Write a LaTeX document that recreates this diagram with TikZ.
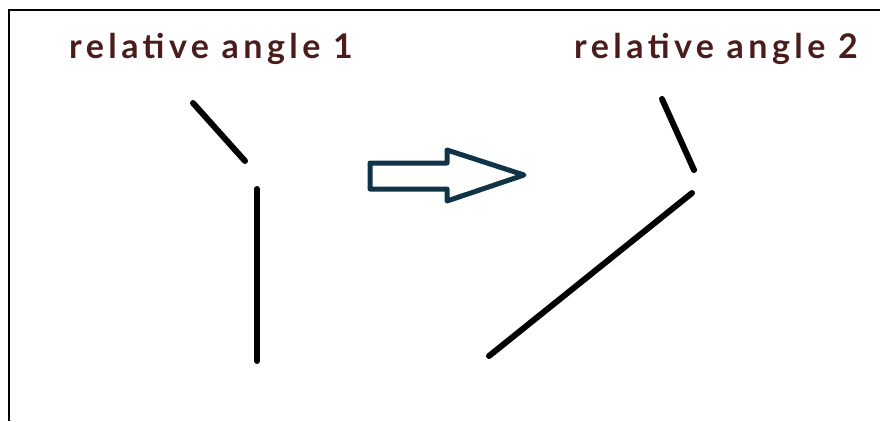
\documentclass[tikz,border=0pt]{standalone}
\usepackage{fontspec}
\setmainfont{Lato}
\newfontfamily\labelfont[LetterSpace=13]{Lato}
\usetikzlibrary{positioning, calc}
\definecolor{labelbrown}{HTML}{4A1C1C}
\definecolor{arrowteal}{HTML}{0F3447}

\begin{document}
\begin{tikzpicture}[x=1pt, y=-1pt]
\useasboundingbox (0,0) rectangle (880,421);
\begin{scope}[every node/.style={text=labelbrown, font=\labelfont\fontsize{34}{40}\selectfont\bfseries}]
    \node (t1) at (211,49) {relative angle 1};
    \node (t2) at (716,49) {relative angle 2};
\end{scope}

% frame
\draw[-, line width=2pt] (9,421) -- (9,10) -- (880,10);

% angle 1
\coordinate (a1) at (193,103);
\coordinate (b1) at (245,161);
\coordinate (c1) at (257,189);
\coordinate (d1) at (257,361);
\draw[-, line width=6pt, line cap=round] (a1) -- (b1);
\draw[-, line width=6pt, line cap=round] (c1) -- (d1);

% angle 2
\coordinate (a2) at (662,99);
\coordinate (b2) at (694,170);
\coordinate (c2) at (692,193);
\coordinate (d2) at (489,356);
\draw[-, line width=6pt, line cap=round] (a2) -- (b2);
\draw[-, line width=6pt, line cap=round] (c2) -- (d2);

% block arrow
\draw[arrowteal, line width=5pt, line join=round]
    (370,163) -- (447,163) -- (447,150) -- (524,175) -- (447,201) -- (447,189) -- (370,189) -- cycle;
\end{tikzpicture}
\end{document}
